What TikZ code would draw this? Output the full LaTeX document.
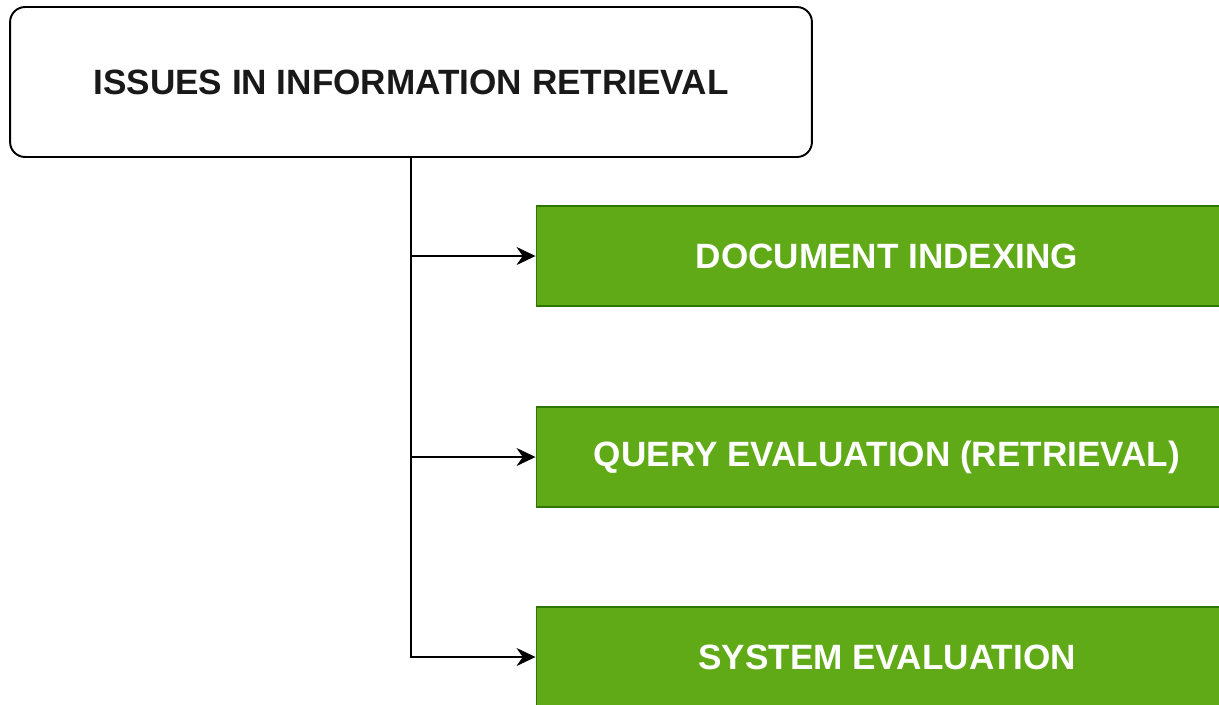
\documentclass[tikz,border=0pt]{standalone}
\usepackage{fontspec}
\setmainfont{Liberation Sans}
\usepackage{xcolor}
\usetikzlibrary{arrows.meta, positioning}
\definecolor{itemgreen}{HTML}{60A917}
\definecolor{itemborder}{HTML}{2D7600}

\begin{document}
\begin{tikzpicture}[x=0.02cm,y=-0.02cm,
                    line width=1.1pt,
                    issue node/.style={rectangle,rounded corners=0.3cm,draw=black,fill=white,
                      minimum width=16.04cm,minimum height=3cm,font=\fontsize{20}{24}\selectfont\bfseries,text=black!90},
                    item node/.style={rectangle,draw=itemborder,fill=itemgreen,line width=0.6pt,
                      minimum width=14.04cm,minimum height=2cm,font=\fontsize{20}{24}\selectfont\bfseries,text=white}]

  \useasboundingbox (0,0) rectangle (1219,704);

  \node[issue node] (issues) at (411,82) {ISSUES IN INFORMATION RETRIEVAL};

  \node[item node] (doc) at (887,256) {DOCUMENT INDEXING};
  \node[item node] (query) at (887,457) {QUERY EVALUATION (RETRIEVAL)};
  \node[item node] (system) at (887,657) {SYSTEM EVALUATION};

  \draw[-{Stealth[length=0.38cm,width=0.36cm]}] (issues.south) |- (doc.west);
  \draw[-{Stealth[length=0.38cm,width=0.36cm]}] (issues.south) |- (query.west);
  \draw[-{Stealth[length=0.38cm,width=0.36cm]}] (issues.south) |- (system.west);
\end{tikzpicture}
\end{document}
